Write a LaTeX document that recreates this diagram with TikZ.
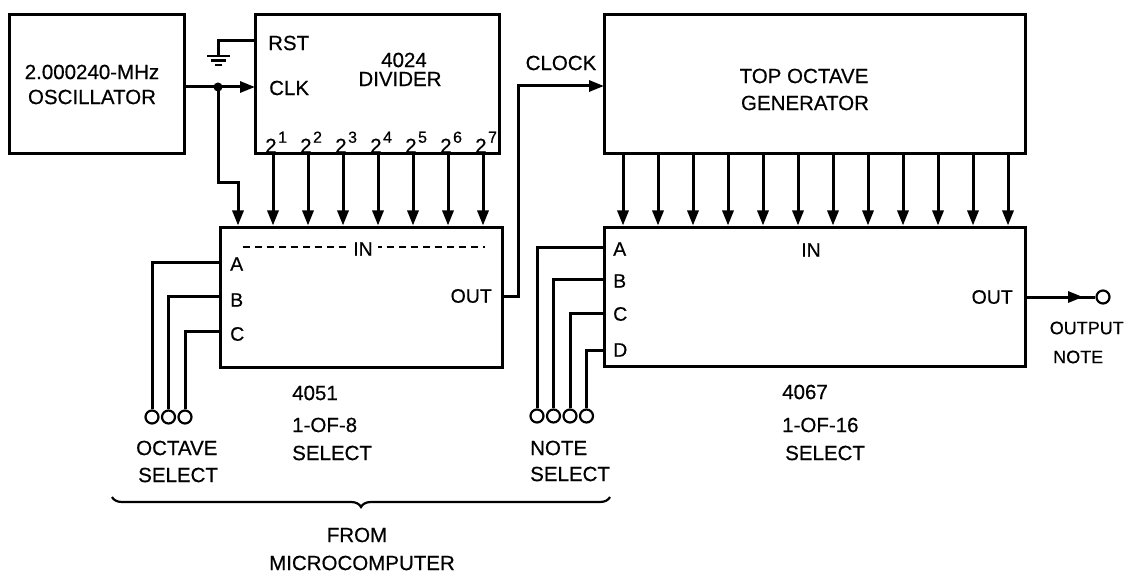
\documentclass[tikz,border=0pt]{standalone}
\usepackage{fontspec}
\setmainfont{Liberation Sans}[FakeBold=0.5]
\usetikzlibrary{arrows.meta,decorations.pathreplacing}
\begin{document}
\begin{tikzpicture}[x=1pt,y=-1pt,
  wire/.style={line width=3pt},
  thinwire/.style={line width=2.2pt},
  box/.style={draw,line width=3pt,rectangle,inner sep=0pt},
  arr/.style={wire,-{Triangle[length=15pt,width=11pt]}},
  lbl/.style={font=\fontsize{20.5}{24}\selectfont,inner sep=0pt},
  pinlbl/.style={font=\fontsize{19.5}{22}\selectfont,inner sep=0pt},
  term/.style={draw,circle,line width=2.2pt,minimum size=13pt,inner sep=0pt,fill=white},
]
\useasboundingbox (0,0) rectangle (1128,575);

% ---------- blocks ----------
\node[box,minimum width=175pt,minimum height=139pt] (osc) at (96.5,84.5) {};
\node[box,minimum width=244pt,minimum height=139pt] (div) at (377,84.5) {};
\node[box,minimum width=421pt,minimum height=139pt] (top) at (814.5,84.5) {};
\node[box,minimum width=282pt,minimum height=140pt] (mux8) at (361,297) {};
\node[box,minimum width=421pt,minimum height=139pt] (mux16) at (814.5,296.5) {};

% ---------- block texts ----------
\node[lbl] (osct1) at (92,72) {2.000240-MHz};
\node[lbl] (osct2) at (92,97) {OSCILLATOR};
\node[lbl,anchor=west] (rst) at (268,43) {RST};
\node[lbl,anchor=west] (clk) at (269,88) {CLK};
\node[lbl] (d4024) at (404,60) {4024};
\node[lbl] (ddiv) at (400,79) {DIVIDER};
\node[lbl] (topt1) at (804,76) {TOP OCTAVE};
\node[lbl] (topt2) at (805,103) {GENERATOR};
\node[lbl] (clock) at (561,63) {CLOCK};

% ---------- oscillator to divider ----------
\coordinate (oscout) at (184,87);
\coordinate (junc) at (218,87);
\coordinate (clkpin) at (255,87);
\coordinate (rstpin) at (255,41);
\coordinate (gnd) at (218,56);
\draw[arr] (oscout) -- (clkpin);
\fill (junc) circle (4.5pt);
\draw[arr] (junc) -- (218,183) -| (mux8.north -| 238,0);

% ground
\draw[wire] (rstpin) -- (218,41) -- (gnd);
\draw[thinwire] (207,56) -- (230,56);
\draw[thinwire] (211,60.5) -- (226,60.5);
\draw[thinwire] (215,65) -- (222,65);

% ---------- divider outputs ----------
\foreach \i in {1,...,7} {
  \pgfmathtruncatemacro{\xx}{238+35*\i}
  \draw[arr] (div.south -| \xx,0) -- (mux8.north -| \xx,0);
  \node[lbl,anchor=base west] (e\i) at (\xx-8,153) {2\kern1.5pt\raisebox{0.5em}{\fontsize{16}{16}\selectfont\i}};
}

% ---------- top octave outputs ----------
\foreach \xx in {623,658,...,1008} {
  \draw[arr] (top.south -| \xx,0) -- (mux16.north -| \xx,0);
}

% ---------- 4051 ----------
\draw[line width=1.8pt,dash pattern=on 7pt off 5pt] (243,247) -- (485,247);
\node[pinlbl,fill=white,inner xsep=5pt] (in8) at (363,249) {IN};
\node[pinlbl,anchor=west] (a8) at (230,264) {A};
\node[pinlbl,anchor=west] (b8) at (230,300) {B};
\node[pinlbl,anchor=west] (c8) at (230,334) {C};
\node[pinlbl,anchor=east] (out8) at (492,296) {OUT};
\node[lbl,anchor=west] (n4051) at (292,393) {4051};
\node[lbl,anchor=west] (n1of8) at (292,425) {1-OF-8};
\node[lbl,anchor=west] (nsel8) at (292,453) {SELECT};

\coordinate (m8A) at (220,262);
\coordinate (m8B) at (220,296);
\coordinate (m8C) at (220,331);
\coordinate (m8out) at (502,296);
\coordinate (clkin) at (604,86);

\node[term] (o1) at (152,417) {};
\node[term] (o2) at (168.5,417) {};
\node[term] (o3) at (185,417) {};
\draw[wire] (o1.north) |- (m8A);
\draw[wire] (o2.north) |- (m8B);
\draw[wire] (o3.north) |- (m8C);
\node[lbl,anchor=west] (octl1) at (136,448) {OCTAVE};
\node[lbl,anchor=west] (octl2) at (138,475) {SELECT};

% clock line
\draw[arr] (m8out) -- (518,296) |- (clkin);

% ---------- 4067 ----------
\node[pinlbl] (in16) at (811,250) {IN};
\node[pinlbl,anchor=west] (a16) at (613,249) {A};
\node[pinlbl,anchor=west] (b16) at (613,281) {B};
\node[pinlbl,anchor=west] (c16) at (613,314) {C};
\node[pinlbl,anchor=west] (dd16) at (613,350) {D};
\node[pinlbl,anchor=east] (out16) at (1013,297) {OUT};
\node[lbl,anchor=west] (n4067) at (782,392) {4067};
\node[lbl,anchor=west] (n1of16) at (782,425) {1-OF-16};
\node[lbl,anchor=west] (nsel16) at (785,453) {SELECT};

\coordinate (m16A) at (604,247);
\coordinate (m16B) at (604,279);
\coordinate (m16C) at (604,313);
\coordinate (m16D) at (604,350);
\coordinate (m16out) at (1025,297);

\node[term] (s1) at (537,416) {};
\node[term] (s2) at (553.5,416) {};
\node[term] (s3) at (570,416) {};
\node[term] (s4) at (586.5,416) {};
\draw[wire] (s1.north) |- (m16A);
\draw[wire] (s2.north) |- (m16B);
\draw[wire] (s3.north) |- (m16C);
\draw[wire] (s4.north) |- (m16D);
\node[lbl,anchor=west] (notel1) at (530,448) {NOTE};
\node[lbl,anchor=west] (notel2) at (530,474) {SELECT};

% output
\node[term] (outn) at (1103,297) {};
\coordinate (mid) at (1083,297);
\draw[wire] (m16out) -- (outn.west);
\draw[arr] (m16out) -- (mid);
\node[lbl,font=\fontsize{18}{20}\selectfont,anchor=east] (outl1) at (1124,328) {OUTPUT};
\node[lbl,font=\fontsize{18}{20}\selectfont,anchor=west] (outl2) at (1053,357) {NOTE};

% ---------- brace ----------
\coordinate (brL) at (112,497);
\coordinate (brR) at (610,497);
\draw[line width=2.2pt,decorate,decoration={brace,mirror,amplitude=10pt}] (brL) -- (brR);
\node[lbl] (from) at (357,535) {FROM};
\node[lbl] (micro) at (362,563) {MICROCOMPUTER};
\end{tikzpicture}
\end{document}
